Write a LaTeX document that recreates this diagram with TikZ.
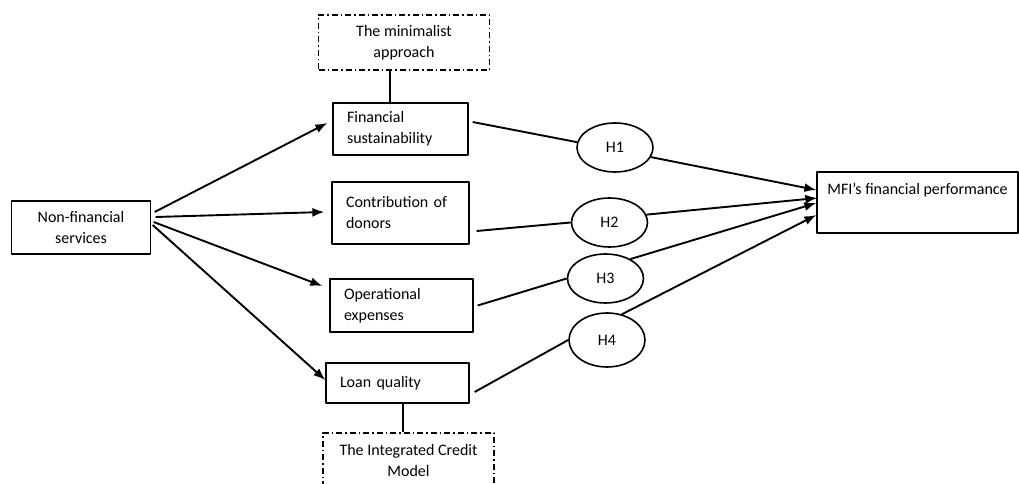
\documentclass[tikz,border=0pt]{standalone}
\usepackage{fontspec}
\setmainfont{Carlito}
\usetikzlibrary{arrows.meta,shapes.geometric,positioning}

\begin{document}
\begin{tikzpicture}[x=1pt,y=1pt,>={Latex[length=12pt,width=9pt]},line join=bevel,
  every node/.style={font=\fontsize{16}{21}\selectfont},
  outer/.style={draw,line width=1.3pt,rectangle,align=center,inner sep=0pt},
  factor/.style={draw,line width=1.3pt,rectangle,align=left,inner xsep=14pt,inner ysep=0pt},
  theory/.style={draw,line width=1.1pt,dash pattern=on 6pt off 3pt on 1.5pt off 3pt,
    align=center,minimum width=171pt,minimum height=55pt,inner sep=0pt},
  hyp/.style={draw,ellipse,line width=1.6pt,inner sep=0pt,minimum width=76pt,minimum height=49pt},
  link/.style={line width=1.9pt}]
  \useasboundingbox (0,0) rectangle (1019,484);
%%
  % Node: nfs
  \node (nfs) [outer,minimum width=139pt,minimum height=53pt] at (81,256.5) {Non-financial\\services};
  % Node: fs
  \node (fs) [factor,text width=107pt,minimum height=52pt] at (400.5,355) {Financial\\sustainability};
  % Node: cd
  \node (cd) [factor,text width=109pt,minimum height=62pt] at (400.5,271) {Contribution of\\donors};
  % Node: oe
  \node (oe) [factor,text width=115pt,minimum height=53pt] at (401.5,178.5) {Operational\\expenses};
  % Node: lq
  \node (lq) [factor,text width=115pt,minimum height=40pt] at (397.5,101) {Loan quality};
  % Node: mina
  \node (mina) [theory] at (404,441.5) {The minimalist\\approach};
  % Node: icm
  \node (icm) [theory] at (408.5,23.5) {The Integrated Credit\\Model};
  % Node: h1..h4
  \node (h1) [hyp] at (615,336.5) {H1};
  \node (h2) [hyp] at (609.5,261.5) {H2};
  \node (h3) [hyp] at (605.5,205.5) {H3};
  \node (h4) [hyp,minimum height=54pt] at (607,144) {H4};
  % Node: mfi
  \node (mfi) [outer,minimum width=201pt,text height=23pt,text depth=38pt] at (917.5,281.5) {MFI’s financial performance};
%
  % Edge: nfs -> fs, cd, oe, lq
  \draw [link,->] ([shift={(3.5,15.5)}]nfs.east) -- ([shift={(-5,6)}]fs.west);
  \draw [link,->] ([shift={(4.5,10.5)}]nfs.east) -- ([shift={(-7,1)}]cd.west);
  \draw [link,->] ([shift={(2.5,5.5)}]nfs.east) -- ([shift={(-7,19.5)}]oe.west);
  \draw [link,->] ([shift={(1.5,2.5)}]nfs.east) -- ([shift={(0,3)}]lq.west);
  % Edge: theories -- factors
  \draw [line width=1.1pt] ([xshift=-10.5]fs.north) -- ([xshift=-10.5]fs.north |- mina.south);
  \draw [line width=1.1pt] ([xshift=5.5]lq.south) -- ([xshift=5.5]lq.south |- icm.north);
  % Edge: factors -- hypotheses
  \draw [link] ([shift={(4,7)}]fs.east) -- (h1.172);
  \draw [link] ([shift={(7,-18)}]cd.east) -- (h2.west);
  \draw [link] ([shift={(4,0)}]oe.east) -- (h3.west);
  \draw [link] ([shift={(5,-9)}]lq.east) -- (h4.west);
  % Edge: hypotheses -> mfi
  \draw [link,->] (h1.-15) -- ([yshift=12.5]mfi.west);
  \draw [link,->] (h2.12) -- ([shift={(1,4.5)}]mfi.west);
  \draw [link,->] (h3.38) -- ([yshift=-0.5]mfi.west);
  \draw [link,->] (h4.60) -- ([yshift=-12.5]mfi.west);
%
\end{tikzpicture}
\end{document}
